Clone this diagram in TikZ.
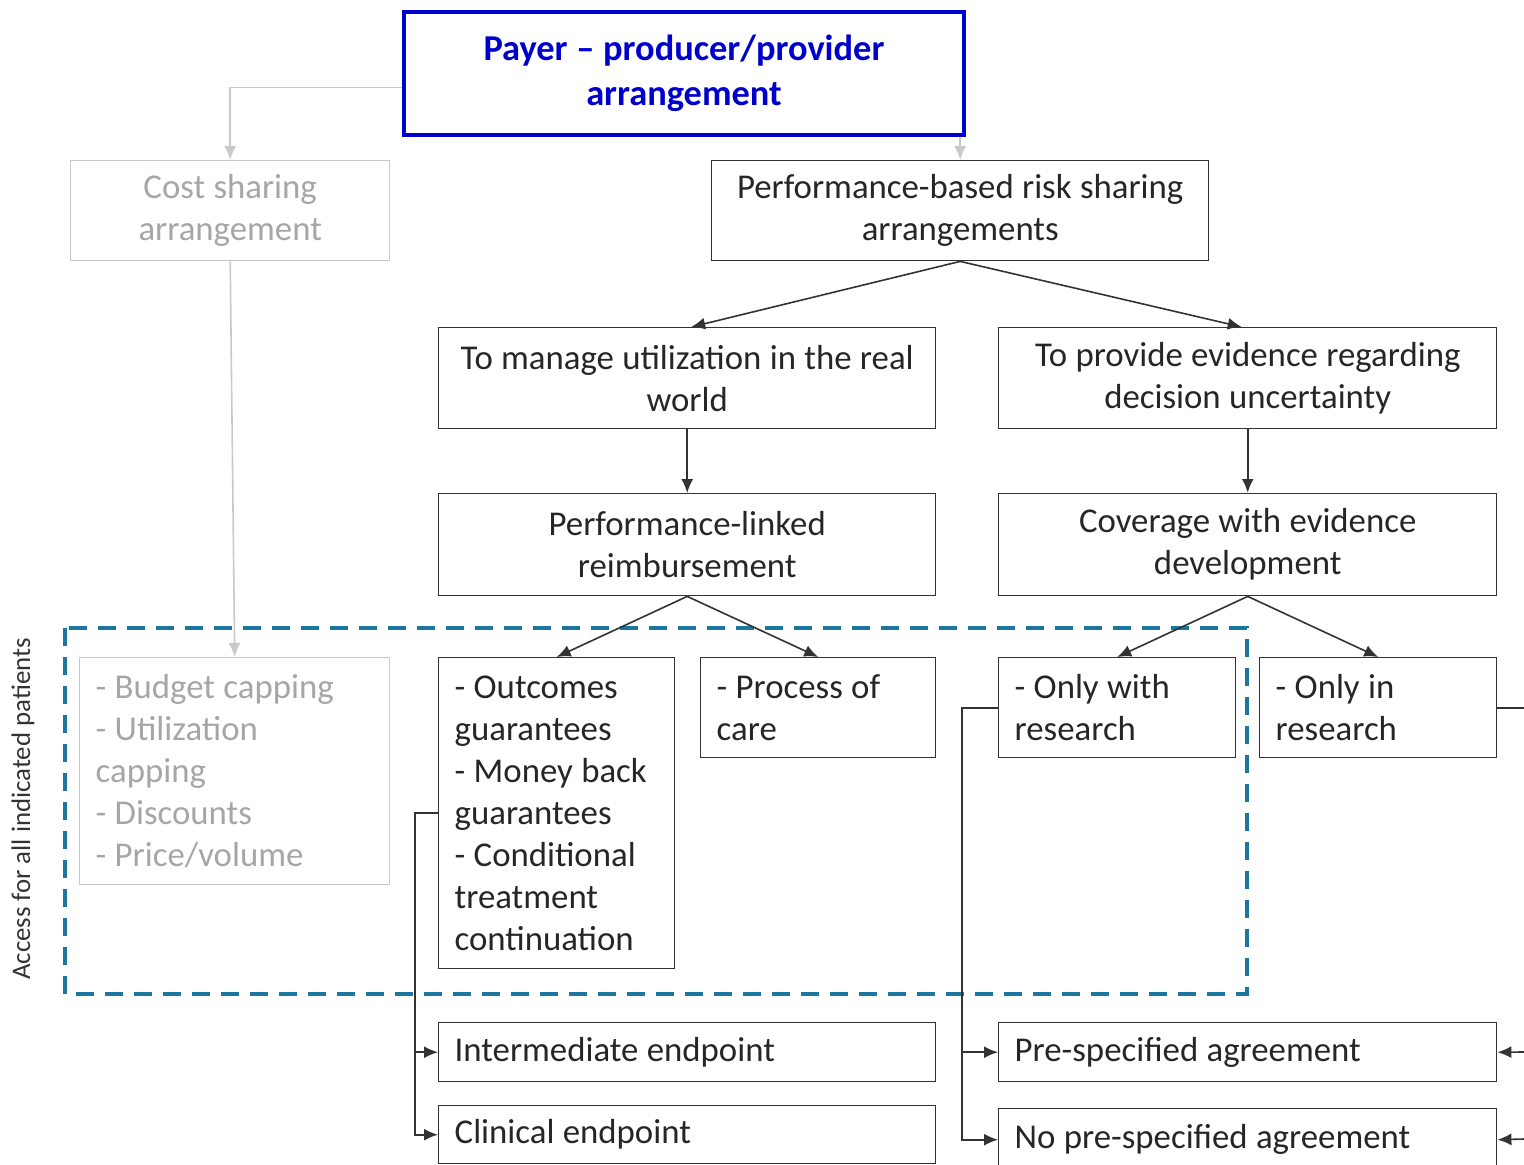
\documentclass[tikz,border=0pt]{standalone}
\usepackage{fontspec}
\setmainfont{Carlito}
\usepackage{tikz}
\usetikzlibrary{shapes.geometric, arrows, arrows.meta}

\definecolor{boxline}{HTML}{333333}
\definecolor{greyline}{HTML}{C9C9C9}
\definecolor{greytext}{HTML}{A6A6A6}
\definecolor{titleblue}{HTML}{0000CC}
\definecolor{accessblue}{HTML}{1D76A0}

\tikzset{
	box/.style={draw=boxline, line width=0.7pt, anchor=north west, inner xsep=8pt, inner ysep=0pt,
		text=black!85, font=\fontsize{17.4}{21}\selectfont,
		execute at begin node={\spaceskip=0.24em\relax}},
	greybox/.style={box, draw=greyline, text=greytext},
	arr/.style={draw=boxline, line width=0.8pt, -{Latex[length=7pt, width=6pt]}},
	greyarr/.style={draw=greyline, line width=0.8pt, -{Latex[length=7pt, width=6pt]}}
}

\begin{document}
\begin{tikzpicture}[x=0.5pt, y=-0.5pt]
	\useasboundingbox (0,0) rectangle (1524,1165);
	
	% top level
	\node[box, draw=titleblue, line width=2pt, text=titleblue, minimum width=280pt, minimum height=61.5pt,
		inner xsep=2pt, text width=276pt, align=center, font=\fontsize{18.2}{22.5}\selectfont\bfseries]
		(payer) at (402,10) {Payer -- producer/provider\\arrangement};
	\node[greybox, minimum width=159.5pt, minimum height=50pt, inner xsep=2pt, text width=155.5pt, align=center]
		(cost) at (70,160) {Cost sharing\\arrangement};
	\node[box, minimum width=248.5pt, minimum height=50pt, inner xsep=2pt, text width=244.5pt, align=center]
		(pbrs) at (711,160) {Performance-based risk sharing\\arrangements};
	
	% aims
	\node[box, minimum width=248.5pt, minimum height=50.5pt, inner xsep=2pt, text width=244.5pt, align=center]
		(manage) at (438,327) {To manage utilization in the real\\world};
	\node[box, minimum width=249pt, minimum height=50.5pt, inner xsep=2pt, text width=245pt, align=center]
		(evidence) at (998,327) {To provide evidence regarding\\decision uncertainty};
	\node[box, minimum width=248.5pt, minimum height=51pt, inner xsep=2pt, text width=244.5pt, align=center]
		(plr) at (438,493) {Performance-linked\\reimbursement};
	\node[box, minimum width=249pt, minimum height=51pt, inner xsep=2pt, text width=245pt, align=center]
		(ced) at (998,493) {Coverage with evidence\\development};
	
	% types
	\node[greybox, minimum width=155pt, minimum height=113.5pt, text width=139pt, align=left]
		(budget) at (79,657) {- Budget capping\\- Utilization\\capping\\- Discounts\\- Price/volume};
	\node[box, minimum width=118pt, minimum height=155.5pt, text width=102pt, align=left]
		(outcomes) at (438,657) {- Outcomes\\guarantees\\- Money back\\guarantees\\- Conditional\\treatment\\continuation};
	\node[box, minimum width=117.5pt, minimum height=50pt, text width=101.5pt, align=left]
		(process) at (700,657) {- Process of\\care};
	\node[box, minimum width=118.5pt, minimum height=50pt, text width=102.5pt, align=left]
		(onlywith) at (998,657) {- Only with\\research};
	\node[box, minimum width=118.5pt, minimum height=50pt, text width=102.5pt, align=left]
		(onlyin) at (1259,657) {- Only in\\research};
	
	% endpoints
	\node[box, minimum width=248.5pt, minimum height=29.5pt, text width=232.5pt, align=left]
		(inter) at (438,1022) {Intermediate endpoint};
	\node[box, minimum width=248.5pt, minimum height=29pt, text width=232.5pt, align=left]
		(clinical) at (438,1105) {Clinical endpoint};
	\node[box, minimum width=249pt, minimum height=29.5pt, text width=233pt, align=left]
		(prespec) at (998,1022) {Pre-specified agreement};
	\node[box, minimum width=249pt, minimum height=31pt, text width=233pt, align=left]
		(nopre) at (998,1108) {No pre-specified agreement};
	
	% access frame
	\draw[accessblue, line width=2.2pt, dash pattern=on 9pt off 5.5pt] (65,628) rectangle (1247,994);
	\node[rotate=90, text=black!80, font=\fontsize{13.4}{15}\selectfont] (access) at (23,809) {Access for all indicated patients};
	
	% loose ends on the right
	\coordinate (outin) at (1524,707);
	\coordinate (inpre) at (1524,1052);
	\coordinate (innopre) at (1524,1139);
	
	% connectors
	\draw[greyarr] ([yshift=-7pt]payer.west) -| (cost.north);
	\draw[greyarr] (payer.south -| pbrs.north) -- (pbrs.north);
	\draw[greyarr] (cost.south) -- (budget.north);
	\draw[arr] (pbrs.south) -- ([xshift=2pt]manage.north);
	\draw[arr] (pbrs.south) -- ([xshift=-3pt]evidence.north);
	\draw[arr] (manage) -- (plr);
	\draw[arr, line width=1.2pt] (evidence) -- (ced);
	\draw[arr] (plr.south) -- (outcomes.north);
	\draw[arr] (plr.south) -- (process.north);
	\draw[arr] (ced.south) -- (onlywith.north);
	\draw[arr] (ced.south) -- (onlyin.north);
	\draw[arr] (outcomes.west) -- ++(-23,0) |- (inter.west);
	\draw[arr] (outcomes.west) -- ++(-23,0) |- (clinical.west);
	\draw[arr] (onlywith.west) -- ++(-36,0) |- (prespec.west);
	\draw[arr] (onlywith.west) -- ++(-36,0) |- (nopre.west);
	\draw[boxline, line width=0.8pt] (onlyin.east) -- (onlyin.east -| outin);
	\draw[arr] (inpre) -- (prespec.east);
	\draw[arr] (innopre) -- (nopre.east);
\end{tikzpicture}
\end{document}
